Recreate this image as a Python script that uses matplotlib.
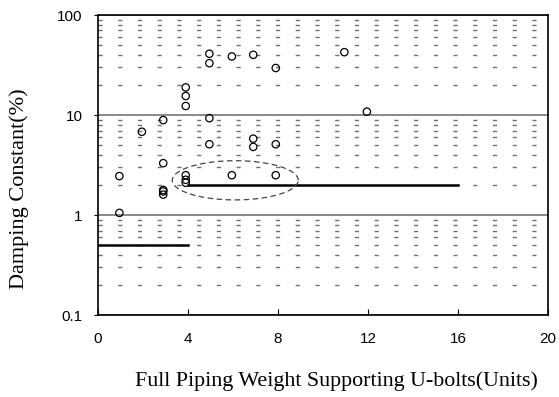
import numpy as np
import matplotlib
matplotlib.use("Agg")
import matplotlib.pyplot as plt

# data
units = [0.95, 0.95, 1.95, 2.9, 2.9, 2.9, 2.9, 2.9,
         3.9, 3.9, 3.9, 3.9, 3.9, 3.9,
         4.95, 4.95, 4.95, 4.95, 5.95, 5.95, 6.9, 6.9, 6.9,
         7.9, 7.9, 7.9, 10.95, 11.95]
damping = [2.45, 1.05, 6.8, 8.9, 3.3, 1.78, 1.72, 1.6,
           18.9, 15.5, 12.3, 2.5, 2.25, 2.1,
           41.0, 33.0, 9.3, 5.1, 38.5, 2.5, 40.0, 5.8, 4.8,
           29.5, 5.1, 2.5, 42.5, 10.8]

# design lines
line_a_x = [4, 16]
line_a_y = [2, 2]
line_b_x = [0, 4]
line_b_y = [0.5, 0.5]

# dashed ellipse around the cluster (centre x, centre log10 y, half widths)
ell_cx, ell_cl, ell_ax, ell_bl = 6.1, 0.347, 2.8, 0.196

plt.rcParams['lines.scale_dashes'] = False

fig = plt.figure(figsize=(5.59, 3.97), dpi=100)
ax = fig.add_axes([0.1753, 0.2065, 0.805, 0.7557])

ax.set_yscale('log')
ax.set_xlim(0, 20)
ax.set_ylim(0.1, 100)

# grid: solid at decades, short dashes at minor
ax.grid(True, which='major', axis='y', color='#808080', linewidth=1.3)
ax.grid(True, which='minor', axis='y', color='#707070', linewidth=1.0,
        linestyle=(0, (3.0, 11.2)))
ax.set_axisbelow(True)

ax.plot(line_a_x, line_a_y, color='black', linewidth=1.8, zorder=3)
ax.plot(line_b_x, line_b_y, color='black', linewidth=1.8, zorder=3)

t = np.linspace(0, 2 * np.pi, 200)
ax.plot(ell_cx + ell_ax * np.cos(t), 10 ** (ell_cl + ell_bl * np.sin(t)),
        color='#444444', linewidth=0.9, linestyle=(0, (4, 2.5)), zorder=3)

ax.scatter(units, damping, s=28, facecolors='none', edgecolors='black',
           linewidths=0.9, zorder=4)

ax.set_xticks([0, 4, 8, 12, 16, 20])
ax.set_yticks([0.1, 1, 10, 100])
ax.set_yticklabels(['0.1', '1', '10', '100'])
ax.yaxis.set_minor_formatter(matplotlib.ticker.NullFormatter())
ax.tick_params(axis='x', direction='in', length=4, pad=12, labelsize=11)
ax.tick_params(axis='y', which='major', direction='out', length=3, pad=8,
               labelsize=11)
ax.tick_params(axis='y', which='minor', length=0)
for lab in ax.get_xticklabels() + ax.get_yticklabels():
    lab.set_family('Liberation Sans')

for sp in ax.spines.values():
    sp.set_linewidth(1.2)
    sp.set_color('black')

fig.text(0.602, 0.040, 'Full Piping Weight Supporting U-bolts(Units)',
         family='Liberation Serif', fontsize=15.8, ha='center', va='center')
fig.text(0.034, 0.525, 'Damping Constant(%)', family='Liberation Serif',
         fontsize=16, rotation=90, ha='center', va='center')

fig.savefig('out.png', dpi=100)
